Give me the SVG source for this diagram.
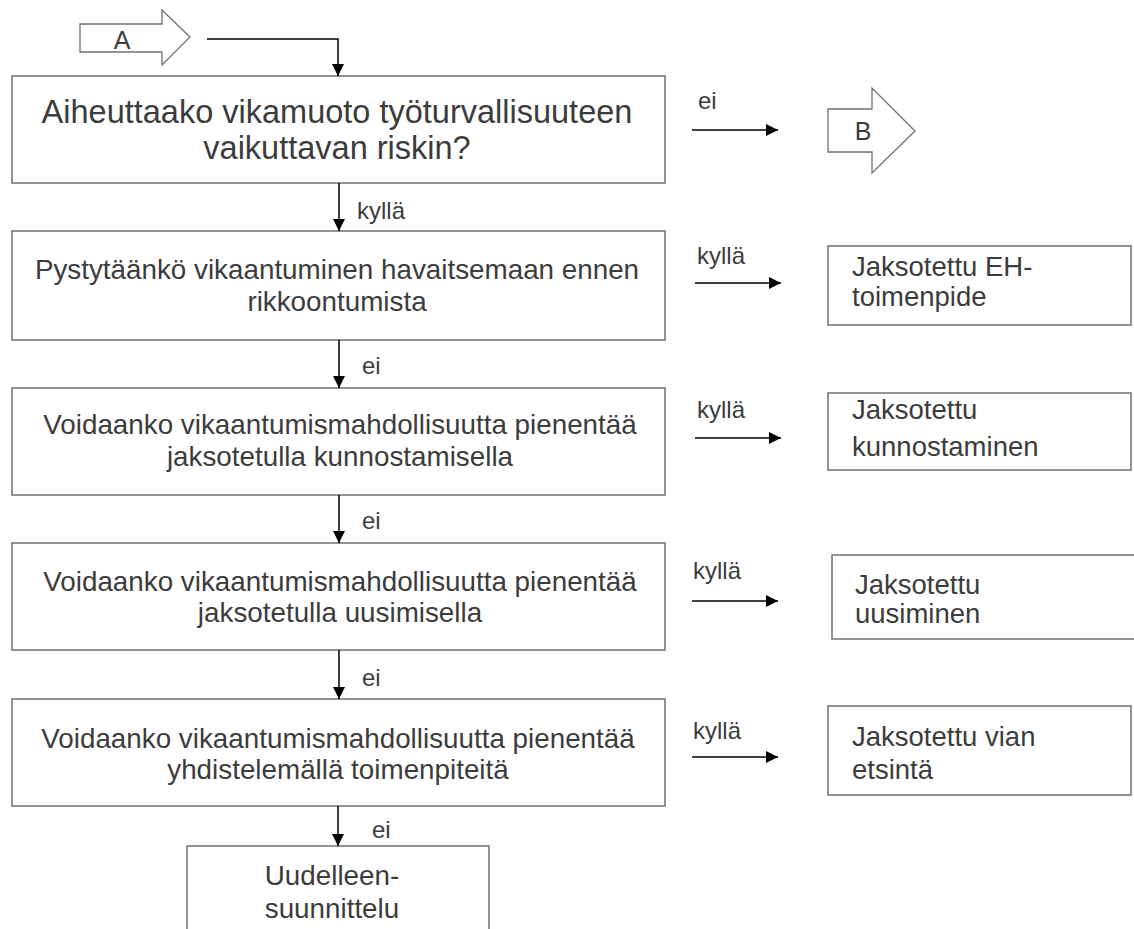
<svg xmlns="http://www.w3.org/2000/svg" width="1134" height="929" viewBox="0 0 1134 929">
<defs>
<marker id="ah" viewBox="0 0 12 12" refX="12" refY="6" markerWidth="12" markerHeight="12" markerUnits="userSpaceOnUse" orient="auto">
<path d="M0,0 L12,6 L0,12 Z" fill="#000"/>
</marker>
<style>
.box{fill:#fff;stroke:#707070;stroke-width:1.5}
.blk{fill:#fff;stroke:#707070;stroke-width:1.3}
.t{font-family:"Liberation Sans",Arial,sans-serif;fill:#3c3c3c}
.big{font-size:32.5px;text-anchor:middle}
.mid{font-size:27.8px;text-anchor:middle}
.side{font-size:27.5px}
.lbl{font-family:"Liberation Sans",Arial,sans-serif;fill:#3c3c3c;font-size:24px}
.c{fill:none;stroke:#000;stroke-width:1.5;marker-end:url(#ah)}
</style>
</defs>
<rect width="1134" height="929" fill="#fff"/>

<g id="arrowA">
<path class="blk" d="M80,24 H162 V10 L190,37 L162,65 V52 H80 Z"/>
<text class="t" x="122" y="49" font-size="25" text-anchor="middle">A</text>
</g>
<g id="arrowB">
<path class="blk" d="M828,109 H872 V88 L915,131 L872,173 V152 H828 Z"/>
<text class="t" x="863" y="140" font-size="25" text-anchor="middle">B</text>
</g>

<g id="q1">
<rect class="box" x="12" y="76" width="653" height="107"/>
<text class="t big" x="337" y="123">Aiheuttaako vikamuoto työturvallisuuteen</text>
<text class="t big" x="337" y="159">vaikuttavan riskin?</text>
</g>
<g id="q2">
<rect class="box" x="12" y="231" width="653" height="109"/>
<text class="t mid" x="337" y="279">Pystytäänkö vikaantuminen havaitsemaan ennen</text>
<text class="t mid" x="337" y="311">rikkoontumista</text>
</g>
<g id="q3">
<rect class="box" x="12" y="388" width="653" height="107"/>
<text class="t mid" x="340" y="434">Voidaanko vikaantumismahdollisuutta pienentää</text>
<text class="t mid" x="340" y="466">jaksotetulla kunnostamisella</text>
</g>
<g id="q4">
<rect class="box" x="12" y="543" width="653" height="107"/>
<text class="t mid" x="340" y="591">Voidaanko vikaantumismahdollisuutta pienentää</text>
<text class="t mid" x="340" y="622">jaksotetulla uusimisella</text>
</g>
<g id="q5">
<rect class="box" x="12" y="699" width="653" height="107"/>
<text class="t mid" x="338" y="748">Voidaanko vikaantumismahdollisuutta pienentää</text>
<text class="t mid" x="338" y="779">yhdistelemällä toimenpiteitä</text>
</g>
<g id="redesign">
<rect class="box" x="187" y="846" width="302" height="100"/>
<text class="t mid" x="332" y="885">Uudelleen-</text>
<text class="t mid" x="332" y="918">suunnittelu</text>
</g>

<g id="r1">
<rect class="box" x="828" y="246" width="303" height="79"/>
<text class="t side" x="852" y="276">Jaksotettu EH-</text>
<text class="t side" x="852" y="306">toimenpide</text>
</g>
<g id="r2">
<rect class="box" x="828" y="393" width="303" height="77"/>
<text class="t side" x="852" y="419">Jaksotettu</text>
<text class="t side" x="852" y="456">kunnostaminen</text>
</g>
<g id="r3">
<path class="box" d="M1140,555 H832 V639 H1140" fill="#fff"/>
<text class="t side" x="855" y="594">Jaksotettu</text>
<text class="t side" x="855" y="623">uusiminen</text>
</g>
<g id="r4">
<rect class="box" x="828" y="706" width="303" height="89"/>
<text class="t side" x="852" y="746">Jaksotettu vian</text>
<text class="t side" x="852" y="779">etsintä</text>
</g>

<g id="connectors">
<path class="c" d="M207,39 H338 V76"/>
<path class="c" d="M339,183 V231"/>
<path class="c" d="M339,340 V388"/>
<path class="c" d="M339,495 V543"/>
<path class="c" d="M339,650 V699"/>
<path class="c" d="M338,806 V846"/>
<path class="c" d="M692,130 H778"/>
<path class="c" d="M695,283 H781"/>
<path class="c" d="M695,438 H781"/>
<path class="c" d="M692,601 H778"/>
<path class="c" d="M692,757 H778"/>
</g>
<g id="labels">
<text class="lbl" x="357" y="219">kyllä</text>
<text class="lbl" x="362" y="374">ei</text>
<text class="lbl" x="362" y="529">ei</text>
<text class="lbl" x="362" y="686">ei</text>
<text class="lbl" x="372" y="838">ei</text>
<text class="lbl" x="698" y="109">ei</text>
<text class="lbl" x="697" y="264">kyllä</text>
<text class="lbl" x="697" y="418">kyllä</text>
<text class="lbl" x="693" y="579">kyllä</text>
<text class="lbl" x="693" y="739">kyllä</text>
</g>
</svg>
